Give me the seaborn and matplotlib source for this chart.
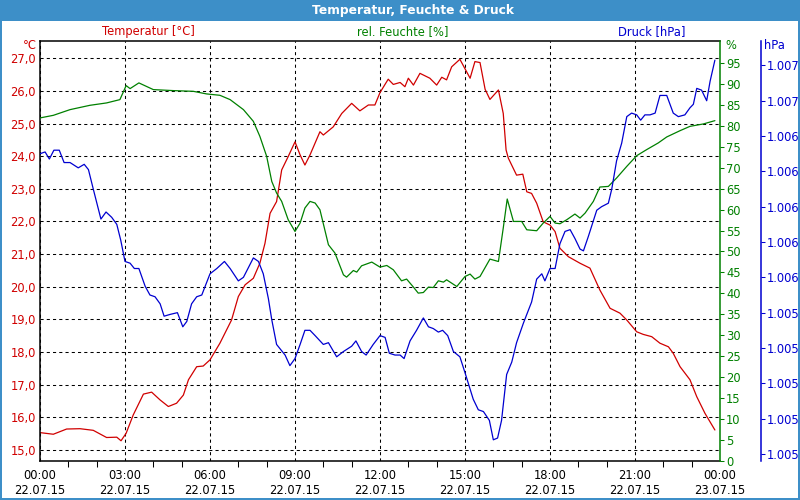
import matplotlib
matplotlib.use("Agg")
import matplotlib.pyplot as plt
import seaborn as sns
import pandas as pd
from matplotlib.ticker import FixedLocator, FuncFormatter
from matplotlib.patches import Rectangle

sns.set_style("white")
plt.rcParams['font.family'] = ['DejaVu Sans']

# ---------------- data ----------------
temp_hours = [0, 0.47, 0.94, 1.41, 1.88, 2.35, 2.71, 2.86, 3.04, 3.29, 3.65, 3.94, 4.24, 4.53, 4.82,
              5.06, 5.24, 5.53, 5.76, 6.0, 6.35, 6.76, 7.0, 7.24, 7.53, 7.76, 7.94, 8.12, 8.35, 8.53,
              8.76, 9.0, 9.18, 9.35, 9.53, 9.88, 10.0, 10.35, 10.65, 11.0, 11.29, 11.59, 11.82, 12.0,
              12.29, 12.47, 12.71, 12.88, 13.0, 13.18, 13.41, 13.76, 14.0, 14.18, 14.35, 14.53, 14.82,
              15.18, 15.35, 15.53, 15.71, 15.88, 16.18, 16.35, 16.45, 16.53, 16.82, 17.04, 17.18, 17.35,
              17.53, 17.76, 18.0, 18.18, 18.35, 18.65, 19.06, 19.41, 19.76, 20.12, 20.47, 20.71, 21.06,
              21.29, 21.59, 21.88, 22.18, 22.35, 22.59, 22.94, 23.18, 23.47, 23.82]
temp_values = [15.53, 15.48, 15.64, 15.65, 15.60, 15.38, 15.39, 15.28, 15.51, 16.07, 16.71, 16.77, 16.53,
               16.33, 16.43, 16.68, 17.15, 17.55, 17.57, 17.76, 18.27, 18.98, 19.70, 20.06, 20.26, 20.72,
               21.33, 22.25, 22.61, 23.58, 23.99, 24.44, 24.04, 23.73, 24.04, 24.75, 24.65, 24.90, 25.31,
               25.62, 25.39, 25.57, 25.57, 25.95, 26.36, 26.20, 26.26, 26.13, 26.39, 26.18, 26.54, 26.39,
               26.18, 26.42, 26.34, 26.74, 26.97, 26.39, 26.90, 26.87, 26.05, 25.74, 26.03, 25.31, 24.19,
               23.94, 23.42, 23.45, 22.91, 22.86, 22.56, 21.99, 21.89, 21.69, 21.18, 20.92, 20.72, 20.57,
               19.90, 19.34, 19.19, 18.98, 18.62, 18.54, 18.47, 18.27, 18.16, 17.96, 17.55, 17.15, 16.63,
               16.12, 15.61]

hum_hours = [0, 0.47, 1.06, 1.76, 2.35, 2.82, 3.04, 3.18, 3.49, 4.0, 4.71, 5.41, 5.88, 6.35, 6.71, 7.18,
             7.53, 7.76, 8.0, 8.18, 8.35, 8.53, 8.76, 9.0, 9.18, 9.35, 9.53, 9.71, 9.88, 10.18, 10.41,
             10.71, 10.82, 11.06, 11.18, 11.35, 11.71, 12.0, 12.24, 12.47, 12.76, 12.94, 13.18, 13.35,
             13.53, 13.71, 13.88, 14.06, 14.24, 14.35, 14.71, 15.0, 15.18, 15.35, 15.53, 15.88, 16.18,
             16.35, 16.49, 16.71, 17.0, 17.18, 17.53, 17.76, 18.0, 18.18, 18.35, 18.59, 18.88, 19.06,
             19.24, 19.53, 19.76, 20.06, 20.35, 20.71, 21.06, 21.41, 21.82, 22.12, 22.59, 22.94, 23.41,
             23.82]
hum_values = [81.87, 82.49, 83.85, 84.88, 85.45, 86.24, 89.58, 88.87, 90.23, 88.63, 88.39, 88.22, 87.60,
              87.27, 86.24, 83.85, 81.06, 77.47, 72.70, 66.72, 63.95, 61.95, 57.57, 54.78, 56.78, 60.37,
              61.95, 61.56, 59.96, 51.60, 49.62, 44.43, 43.88, 45.46, 45.08, 46.58, 47.47, 46.27, 46.66,
              45.63, 43.0, 43.41, 41.50, 40.06, 40.21, 41.50, 41.40, 43.0, 42.69, 43.24, 41.64, 44.03,
              44.60, 43.41, 44.03, 48.18, 47.61, 55.59, 62.52, 57.17, 57.17, 55.18, 54.95, 56.78, 58.36,
              56.78, 56.62, 57.57, 58.93, 57.98, 59.17, 61.95, 65.38, 65.53, 67.53, 70.31, 72.86, 74.30,
              75.90, 77.33, 78.83, 79.86, 80.43, 81.22]

pres_hours = [0, 0.18, 0.33, 0.49, 0.68, 0.85, 1.06, 1.35, 1.56, 1.71, 1.88, 2.15, 2.33, 2.53, 2.71,
              2.85, 3.0, 3.18, 3.33, 3.49, 3.71, 3.88, 4.06, 4.24, 4.38, 4.59, 4.85, 5.04, 5.18, 5.35,
              5.53, 5.71, 6.0, 6.24, 6.51, 6.71, 7.0, 7.18, 7.53, 7.71, 7.88, 8.06, 8.18, 8.35, 8.65,
              8.82, 9.0, 9.18, 9.35, 9.53, 9.71, 10.0, 10.18, 10.47, 10.71, 11.0, 11.15, 11.35, 11.51,
              11.76, 12.0, 12.18, 12.33, 12.53, 12.71, 12.85, 13.06, 13.29, 13.53, 13.71, 13.88, 14.06,
              14.21, 14.39, 14.59, 14.82, 15.0, 15.29, 15.47, 15.65, 15.86, 16.0, 16.15, 16.29, 16.47,
              16.65, 16.82, 17.06, 17.18, 17.35, 17.53, 17.71, 17.82, 18.0, 18.18, 18.35, 18.53, 18.71,
              18.88, 19.06, 19.18, 19.35, 19.65, 19.82, 20.06, 20.18, 20.35, 20.53, 20.71, 20.88, 21.06,
              21.2, 21.35, 21.53, 21.71, 21.88, 22.12, 22.35, 22.53, 22.76, 22.94, 23.06, 23.18, 23.35,
              23.53, 23.65, 23.82]
pres_values = [1006.30, 1006.31, 1006.27, 1006.32, 1006.32, 1006.25, 1006.25, 1006.22, 1006.24, 1006.21,
               1006.10, 1005.93, 1005.97, 1005.94, 1005.90, 1005.81, 1005.69, 1005.68, 1005.65, 1005.65,
               1005.55, 1005.50, 1005.49, 1005.45, 1005.38, 1005.39, 1005.40, 1005.32, 1005.35, 1005.45,
               1005.49, 1005.50, 1005.62, 1005.65, 1005.69, 1005.65, 1005.58, 1005.60, 1005.71, 1005.69,
               1005.62, 1005.48, 1005.36, 1005.22, 1005.16, 1005.10, 1005.14, 1005.22, 1005.30, 1005.30,
               1005.27, 1005.22, 1005.23, 1005.15, 1005.18, 1005.21, 1005.24, 1005.18, 1005.16, 1005.22,
               1005.27, 1005.26, 1005.17, 1005.16, 1005.16, 1005.14, 1005.24, 1005.30, 1005.37, 1005.32,
               1005.31, 1005.29, 1005.30, 1005.27, 1005.18, 1005.15, 1005.06, 1004.91, 1004.85, 1004.84,
               1004.79, 1004.68, 1004.69, 1004.79, 1005.05, 1005.12, 1005.23, 1005.34, 1005.39, 1005.46,
               1005.59, 1005.62, 1005.58, 1005.65, 1005.65, 1005.79, 1005.86, 1005.87, 1005.82, 1005.76,
               1005.75, 1005.83, 1005.98, 1006.00, 1006.02, 1006.10, 1006.26, 1006.36, 1006.51, 1006.53,
               1006.52, 1006.49, 1006.52, 1006.52, 1006.53, 1006.63, 1006.63, 1006.53, 1006.51, 1006.52,
               1006.56, 1006.58, 1006.67, 1006.66, 1006.60, 1006.71, 1006.83]

x_tick_hours = [0, 3, 6, 9, 12, 15, 18, 21, 24]
x_tick_labels = ["00:00\n22.07.15", "03:00\n22.07.15", "06:00\n22.07.15", "09:00\n22.07.15",
                 "12:00\n22.07.15", "15:00\n22.07.15", "18:00\n22.07.15", "21:00\n22.07.15",
                 "00:00\n23.07.15"]
temp_ticks = [15, 16, 17, 18, 19, 20, 21, 22, 23, 24, 25, 26, 27]
hum_ticks = [0, 5, 10, 15, 20, 25, 30, 35, 40, 45, 50, 55, 60, 65, 70, 75, 80, 85, 90, 95]
pres_ticks = [1004.6, 1004.8, 1005.0, 1005.2, 1005.4, 1005.6, 1005.8, 1006.0, 1006.2, 1006.4,
              1006.6, 1006.8]

RED = '#d00000'
GREEN = '#008000'
BLUE = '#0000d0'
BAR = '#3d8fc8'
FS = 8.3

df_t = pd.DataFrame({'h': temp_hours, 'v': temp_values})
df_h = pd.DataFrame({'h': hum_hours, 'v': hum_values})
df_p = pd.DataFrame({'h': pres_hours, 'v': pres_values})

fig = plt.figure(figsize=(8, 5), dpi=100)
fig.patch.set_facecolor('white')
W, H = 800.0, 500.0
ax = fig.add_axes([40 / W, 1 - 461 / H, 680 / W, (461 - 40.7) / H])
axh = ax.twinx()
axp = ax.twinx()

sns.lineplot(data=df_t, x='h', y='v', ax=ax, color=RED, linewidth=0.9, estimator=None)
sns.lineplot(data=df_h, x='h', y='v', ax=axh, color=GREEN, linewidth=0.9, estimator=None)
sns.lineplot(data=df_p, x='h', y='v', ax=axp, color=BLUE, linewidth=0.9, estimator=None)

ax.set_xlim(0, 24)
ax.set_ylim(14.66, 27.54)
axh.set_ylim(0, 100.3)
axp.set_ylim(1004.56, 1006.94)
for a in (ax, axh, axp):
    a.set_xlabel('')
    a.set_ylabel('')

# grid
ax.xaxis.set_major_locator(FixedLocator(x_tick_hours))
ax.set_xticklabels(x_tick_labels)
ax.xaxis.set_minor_locator(FixedLocator([h for h in range(25) if h % 3 != 0]))
ax.yaxis.set_major_locator(FixedLocator(temp_ticks))
ax.yaxis.set_major_formatter(FuncFormatter(lambda v, p: f"{v:.1f}".replace('.', ',')))
ax.grid(True, which='major', color='black', linestyle=(0, (3, 3)), linewidth=0.75)
ax.set_axisbelow(True)

ax.tick_params(axis='x', which='major', length=0, pad=6, labelsize=FS, labelcolor='black')
ax.tick_params(axis='x', which='minor', length=4, width=0.75, direction='out', color='black', bottom=True)
ax.tick_params(axis='y', which='major', length=0, pad=3, labelsize=FS, labelcolor=RED, left=True)

for s in ('left', 'top', 'bottom'):
    ax.spines[s].set_visible(True)
    ax.spines[s].set_color('black')
    ax.spines[s].set_linewidth(1.1)
ax.spines['right'].set_visible(False)

# humidity axis
for s in ('left', 'top', 'bottom'):
    axh.spines[s].set_visible(False)
axh.spines['right'].set_visible(True)
axh.spines['right'].set_color(GREEN)
axh.spines['right'].set_linewidth(1.1)
axh.yaxis.set_major_locator(FixedLocator(hum_ticks))
axh.yaxis.set_major_formatter(FuncFormatter(lambda v, p: f"{v:.0f}"))
axh.tick_params(axis='y', which='major', right=True, length=3, width=0.75, direction='out',
                color=GREEN, labelcolor=GREEN, labelsize=FS, pad=1.5)
axh.grid(False)

# pressure axis
axp.spines['right'].set_position(('axes', (761 - 40) / 680.0))
for s in ('left', 'top', 'bottom'):
    axp.spines[s].set_visible(False)
axp.spines['right'].set_visible(True)
axp.spines['right'].set_color(BLUE)
axp.spines['right'].set_linewidth(1.1)
axp.yaxis.set_major_locator(FixedLocator(pres_ticks))
axp.yaxis.set_major_formatter(FuncFormatter(lambda v, p: f"{v / 1000:.3f}"))
axp.tick_params(axis='y', which='major', right=True, length=3, width=0.75, direction='out',
                color=BLUE, labelcolor=BLUE, labelsize=FS, pad=1.5)
axp.grid(False)

# title bar and border
fig.patches.append(Rectangle((0, 1 - 21 / H), 1, 21 / H, transform=fig.transFigure,
                             facecolor=BAR, edgecolor='none', zorder=0))
fig.patches.append(Rectangle((0, 0), 2 / W, 1, transform=fig.transFigure, facecolor=BAR, edgecolor='none'))
fig.patches.append(Rectangle((1 - 2 / W, 0), 2 / W, 1, transform=fig.transFigure, facecolor=BAR, edgecolor='none'))
fig.patches.append(Rectangle((0, 0), 1, 2 / H, transform=fig.transFigure, facecolor=BAR, edgecolor='none'))

fig.text(413 / W, 1 - 10.5 / H, "Temperatur, Feuchte & Druck", color='white', fontsize=8.8,
         fontweight='bold', ha='center', va='center')
fig.text(148 / W, 1 - 31.5 / H, "Temperatur [°C]", color=RED, fontsize=FS, ha='center', va='center')
fig.text(403 / W, 1 - 31.5 / H, "rel. Feuchte [%]", color=GREEN, fontsize=FS, ha='center', va='center')
fig.text(652 / W, 1 - 31.5 / H, "Druck [hPa]", color=BLUE, fontsize=FS, ha='center', va='center')
fig.text(37 / W, 1 - 45.5 / H, "°C", color=RED, fontsize=FS, ha='right', va='center')
fig.text(725 / W, 1 - 45.5 / H, "%", color=GREEN, fontsize=FS, ha='left', va='center')
fig.text(764 / W, 1 - 45.5 / H, "hPa", color=BLUE, fontsize=FS, ha='left', va='center')

fig.savefig("out.png", dpi=100, facecolor='white')
